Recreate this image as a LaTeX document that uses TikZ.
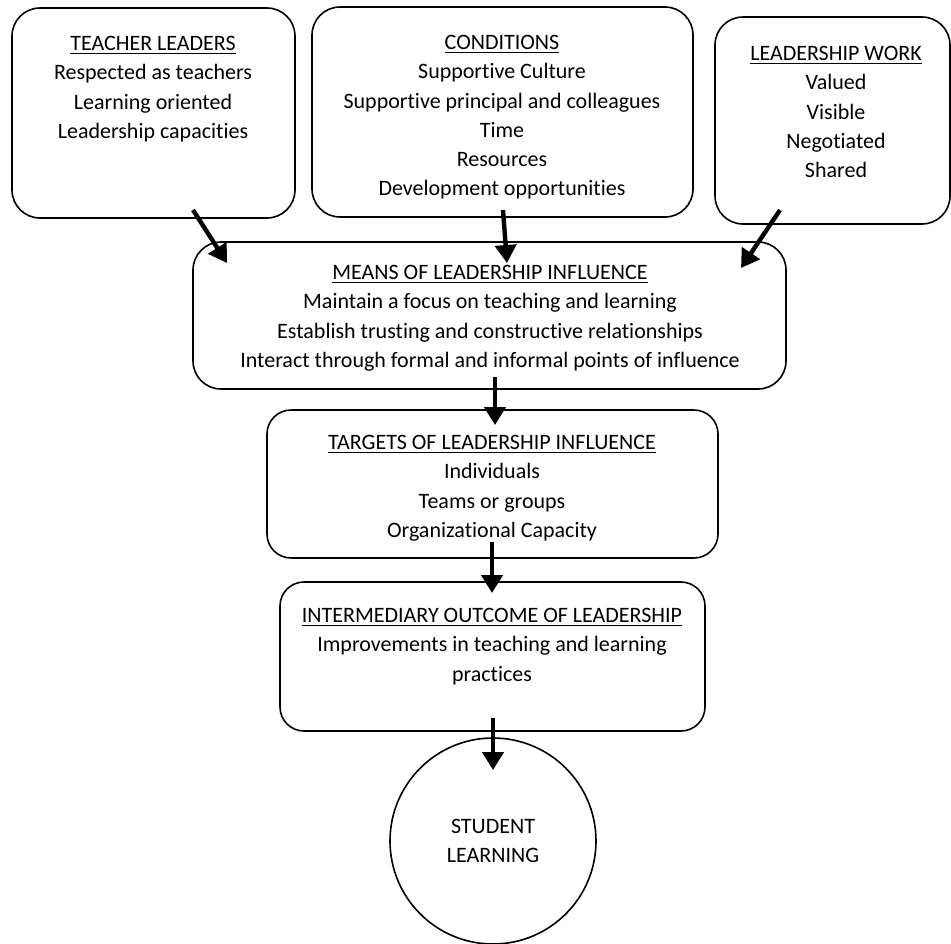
\documentclass[tikz,border=0pt]{standalone}
\usepackage{fontspec}
\setmainfont{Carlito}[RawFeature = {-liga}]
\usetikzlibrary{arrows.meta}
\usetikzlibrary{positioning}
\tikzset{box/.style = {draw, line width = 0.8pt, rounded corners = 14pt, inner sep = 0, outer sep = 0}}
\tikzset{txt/.style = {align = center, inner sep = 0, font = \fontsize{11}{14.6}\selectfont}}
\tikzset{flow/.style = {line width = 2.2pt, -{Triangle[length = 9pt, width = 10.5pt]}}}
\newcommand{\hd}[1]{\underline{#1}}

\begin{document}
\begin{tikzpicture}[x = 0.5pt, y = -0.5pt]
    \useasboundingbox (0, 0) rectangle (951, 943);

    \node [box, minimum width = 141.5pt, minimum height = 105pt] (teacher) at (153.5, 113) {};
    \node [box, minimum width = 190.5pt, minimum height = 105pt] (cond) at (502.5, 112) {};
    \node [box, minimum width = 117.5pt, minimum height = 103.5pt] (work) at (832.5, 120.5) {};
    \node [box, minimum width = 296.5pt, minimum height = 73.5pt] (means) at (489.5, 315.5) {};
    \node [box, minimum width = 225.5pt, minimum height = 74pt, rounded corners = 12pt] (targets) at (492.5, 484) {};
    \node [box, minimum width = 212.5pt, minimum height = 74.5pt, rounded corners = 12pt] (inter) at (492.5, 656.5) {};
    \node [draw, circle, line width = 0.8pt, minimum size = 103pt, inner sep = 0] (student) at (493, 841) {};

    \node [txt, anchor = north] (teachertxt) at (153, 36) {\hd{TEACHER LEADERS}\\ Respected as teachers\\ Learning oriented\\ Leadership capacities};
    \node [txt, anchor = north] (condtxt) at (502, 35) {\hd{CONDITIONS}\\ Supportive Culture\\ Supportive principal and colleagues\\ Time\\ Resources\\ Development opportunities};
    \node [txt, anchor = north] (worktxt) at (836, 46) {\hd{LEADERSHIP WORK}\\ Valued\\ Visible\\ Negotiated\\ Shared};
    \node [txt, anchor = north] (meanstxt) at (490, 265) {\hd{MEANS OF LEADERSHIP INFLUENCE}\\ Maintain a focus on teaching and learning\\ Establish trusting and constructive relationships\\ Interact through formal and informal points of influence};
    \node [txt, anchor = north] (targetstxt) at (492, 435) {\hd{TARGETS OF LEADERSHIP INFLUENCE}\\ Individuals\\ Teams or groups\\ Organizational Capacity};
    \node [txt, anchor = north] (intertxt) at (492, 608) {\hd{INTERMEDIARY OUTCOME OF LEADERSHIP}\\ Improvements in teaching and learning\\ practices};
    \node [txt] (studenttxt) at (student.center) {STUDENT\\ LEARNING};

    \coordinate (teacherout) at (193, 210);
    \coordinate (condout) at (503, 210);
    \coordinate (workout) at (780, 210);
    \coordinate (meansin1) at (227, 263);
    \coordinate (meansin2) at (507, 263);
    \coordinate (meansin3) at (741, 268);
    \coordinate (meansout) at (495, 377);
    \coordinate (targetsin) at (495, 425);
    \coordinate (targetsout) at (492, 542);
    \coordinate (interin) at (492, 593);
    \coordinate (interout) at (493, 718);
    \coordinate (studentin) at (493, 770);

    \draw [flow] (teacherout) -- (meansin1);
    \draw [flow] (condout) -- (meansin2);
    \draw [flow] (workout) -- (meansin3);
    \draw [flow] (meansout) -- (targetsin);
    \draw [flow] (targetsout) -- (interin);
    \draw [flow] (interout) -- (studentin);
\end{tikzpicture}
\end{document}
